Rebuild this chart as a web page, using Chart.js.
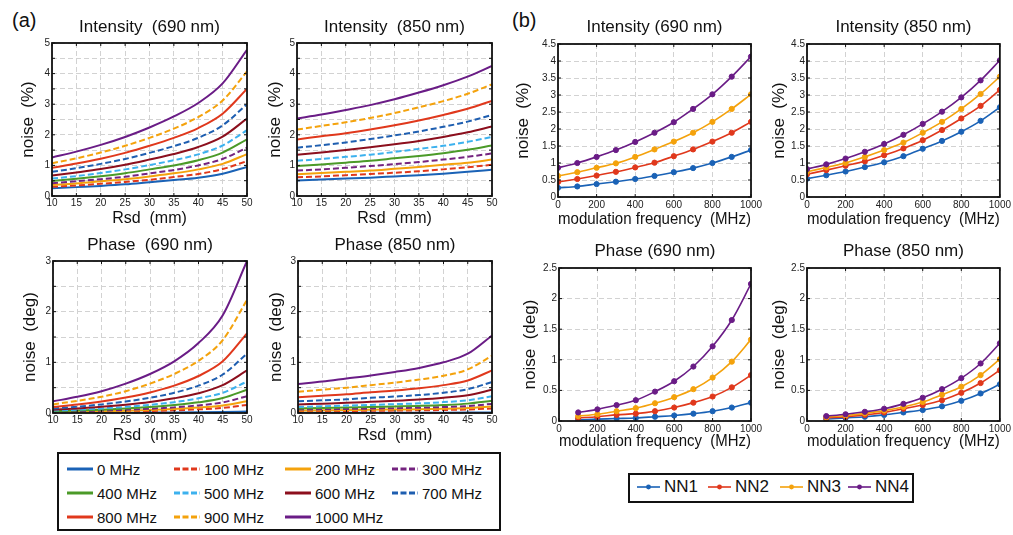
<!DOCTYPE html>
<html>
<head>
<meta charset="utf-8">
<script src="https://cdn.jsdelivr.net/npm/chart.js@4"></script>
<style>
  body { margin: 0; background: #fff; width: 1013px; height: 535px; position: relative; overflow: hidden;
         font-family: 'Liberation Sans', Arial, sans-serif; color: #111; }
  canvas { position: absolute; }
  .tag { position: absolute; font-size: 20px; line-height: 20px; }
  .legend { position: absolute; border: 2px solid #111; box-sizing: border-box; }
  .item { position: absolute; display: flex; align-items: center; height: 20px; white-space: nowrap; }
  .item svg { margin-right: 4px; }
</style>
</head>
<body>
<div class="tag" style="left:12px;top:10px">(a)</div>
<div class="tag" style="left:512px;top:10px">(b)</div>
<div id="legA" class="legend" style="left:57px;top:452px;width:444px;height:79px"></div>
<div id="legB" class="legend" style="left:628px;top:473px;width:286px;height:30px"></div>
<script>
// ---- data ----
const rsd = [10, 15, 20, 25, 30, 35, 40, 45, 50];
const freqNames = ['0 MHz', '100 MHz', '200 MHz', '300 MHz', '400 MHz', '500 MHz',
                   '600 MHz', '700 MHz', '800 MHz', '900 MHz', '1000 MHz'];

// rows: 0 MHz ... 1000 MHz, columns follow rsd
const intensity690 = [
  [0.25, 0.29, 0.33, 0.38, 0.45, 0.52, 0.60, 0.73, 0.95],
  [0.30, 0.345, 0.40, 0.46, 0.53, 0.62, 0.72, 0.88, 1.14],
  [0.36, 0.41, 0.48, 0.55, 0.64, 0.74, 0.87, 1.05, 1.37],
  [0.415, 0.48, 0.55, 0.63, 0.74, 0.85, 1.00, 1.21, 1.58],
  [0.49, 0.56, 0.645, 0.745, 0.87, 1.00, 1.17, 1.42, 1.85],
  [0.57, 0.65, 0.75, 0.87, 1.01, 1.17, 1.36, 1.65, 2.15],
  [0.67, 0.77, 0.88, 1.02, 1.19, 1.37, 1.60, 1.94, 2.53],
  [0.79, 0.91, 1.05, 1.21, 1.41, 1.63, 1.90, 2.31, 3.00],
  [0.92, 1.06, 1.22, 1.41, 1.64, 1.90, 2.22, 2.69, 3.50],
  [1.07, 1.23, 1.42, 1.64, 1.90, 2.20, 2.58, 3.12, 4.07],
  [1.26, 1.45, 1.67, 1.93, 2.24, 2.60, 3.04, 3.68, 4.78]
];
const intensity850 = [
  [0.51, 0.54, 0.57, 0.60, 0.64, 0.68, 0.73, 0.79, 0.86],
  [0.61, 0.64, 0.68, 0.72, 0.76, 0.81, 0.87, 0.94, 1.02],
  [0.71, 0.75, 0.79, 0.83, 0.89, 0.95, 1.02, 1.09, 1.19],
  [0.83, 0.87, 0.92, 0.98, 1.04, 1.11, 1.19, 1.28, 1.39],
  [0.98, 1.03, 1.09, 1.15, 1.23, 1.31, 1.40, 1.51, 1.65],
  [1.15, 1.21, 1.28, 1.35, 1.44, 1.54, 1.64, 1.77, 1.93],
  [1.35, 1.42, 1.50, 1.59, 1.69, 1.80, 1.93, 2.08, 2.27],
  [1.58, 1.66, 1.75, 1.86, 1.98, 2.11, 2.26, 2.43, 2.65],
  [1.85, 1.95, 2.05, 2.17, 2.31, 2.47, 2.65, 2.85, 3.11],
  [2.17, 2.29, 2.41, 2.55, 2.71, 2.90, 3.10, 3.34, 3.65],
  [2.53, 2.66, 2.81, 2.97, 3.16, 3.38, 3.62, 3.90, 4.25]
];
const phase690 = [
  [0.003, 0.004, 0.005, 0.006, 0.008, 0.010, 0.013, 0.018, 0.028],
  [0.012, 0.017, 0.023, 0.030, 0.040, 0.053, 0.072, 0.10, 0.16],
  [0.018, 0.025, 0.034, 0.045, 0.060, 0.080, 0.108, 0.15, 0.23],
  [0.025, 0.035, 0.047, 0.063, 0.084, 0.111, 0.15, 0.21, 0.33],
  [0.035, 0.048, 0.066, 0.088, 0.117, 0.156, 0.21, 0.295, 0.46],
  [0.048, 0.066, 0.09, 0.121, 0.16, 0.214, 0.29, 0.40, 0.62],
  [0.065, 0.09, 0.122, 0.164, 0.218, 0.29, 0.39, 0.55, 0.84],
  [0.09, 0.124, 0.17, 0.227, 0.30, 0.40, 0.54, 0.76, 1.17],
  [0.12, 0.167, 0.227, 0.305, 0.405, 0.54, 0.73, 1.02, 1.57],
  [0.17, 0.24, 0.32, 0.43, 0.58, 0.77, 1.03, 1.44, 2.23],
  [0.23, 0.32, 0.43, 0.58, 0.77, 1.02, 1.38, 1.93, 3.00]
];
const phase850 = [
  [0.004, 0.004, 0.005, 0.005, 0.006, 0.006, 0.007, 0.008, 0.01],
  [0.034, 0.037, 0.040, 0.044, 0.048, 0.053, 0.059, 0.070, 0.09],
  [0.048, 0.053, 0.058, 0.063, 0.069, 0.075, 0.084, 0.099, 0.13],
  [0.067, 0.073, 0.080, 0.087, 0.095, 0.105, 0.117, 0.137, 0.18],
  [0.09, 0.098, 0.107, 0.117, 0.128, 0.14, 0.157, 0.185, 0.24],
  [0.12, 0.134, 0.146, 0.16, 0.175, 0.19, 0.215, 0.25, 0.33],
  [0.17, 0.185, 0.20, 0.22, 0.24, 0.265, 0.30, 0.35, 0.46],
  [0.23, 0.25, 0.27, 0.30, 0.325, 0.355, 0.40, 0.47, 0.61],
  [0.31, 0.34, 0.37, 0.41, 0.445, 0.49, 0.55, 0.64, 0.84],
  [0.42, 0.46, 0.50, 0.55, 0.60, 0.66, 0.735, 0.86, 1.13],
  [0.57, 0.62, 0.68, 0.74, 0.81, 0.89, 1.00, 1.17, 1.53]
];

const freqAll = [0, 100, 200, 300, 400, 500, 600, 700, 800, 900, 1000];
const freqPhase = [100, 200, 300, 400, 500, 600, 700, 800, 900, 1000];
const nnNames = ['NN1', 'NN2', 'NN3', 'NN4'];

const nnIntensity690 = [
  [0.27, 0.31, 0.38, 0.45, 0.53, 0.62, 0.73, 0.85, 1.00, 1.18, 1.38],
  [0.44, 0.53, 0.63, 0.74, 0.87, 1.01, 1.20, 1.40, 1.63, 1.89, 2.21],
  [0.62, 0.73, 0.86, 0.99, 1.18, 1.40, 1.63, 1.89, 2.21, 2.59, 3.02],
  [0.86, 1.00, 1.18, 1.38, 1.62, 1.89, 2.20, 2.59, 3.02, 3.54, 4.13]
];
const nnIntensity850 = [
  [0.54, 0.64, 0.75, 0.88, 1.02, 1.20, 1.42, 1.65, 1.92, 2.24, 2.64],
  [0.67, 0.79, 0.92, 1.05, 1.23, 1.43, 1.67, 1.97, 2.31, 2.68, 3.15],
  [0.74, 0.87, 1.00, 1.18, 1.38, 1.60, 1.89, 2.21, 2.59, 3.03, 3.54],
  [0.82, 0.96, 1.13, 1.33, 1.56, 1.83, 2.15, 2.51, 2.93, 3.43, 4.02]
];
const nnPhase690 = [
  [0.02, 0.03, 0.04, 0.05, 0.07, 0.09, 0.12, 0.16, 0.22, 0.30],
  [0.05, 0.07, 0.10, 0.12, 0.16, 0.22, 0.30, 0.40, 0.55, 0.75],
  [0.08, 0.11, 0.16, 0.21, 0.29, 0.39, 0.52, 0.71, 0.97, 1.33],
  [0.14, 0.19, 0.26, 0.34, 0.48, 0.65, 0.89, 1.22, 1.65, 2.24]
];
const nnPhase850 = [
  [0.03, 0.05, 0.07, 0.10, 0.14, 0.18, 0.24, 0.33, 0.45, 0.60],
  [0.05, 0.07, 0.10, 0.14, 0.20, 0.26, 0.34, 0.46, 0.62, 0.83],
  [0.065, 0.09, 0.125, 0.17, 0.23, 0.31, 0.43, 0.56, 0.75, 1.01],
  [0.08, 0.11, 0.15, 0.20, 0.28, 0.38, 0.52, 0.70, 0.94, 1.27]
];

// ---- styles ----
const freqColors = ['#1a62b6', '#e0381c', '#f4a20c', '#74237f', '#4b9a28', '#3cb1ee',
                    '#8c0f1d', '#1e5eb0', '#e0381c', '#f4a20c', '#6a1c86'];
const freqDashed = [false, true, false, true, false, true, false, true, false, true, false];
const nnColors = ['#1a62b6', '#e0381c', '#f4a20c', '#6a1c86'];

Chart.defaults.font.family = "'Liberation Sans', Arial, sans-serif";
Chart.defaults.color = '#111';

// black box round the plot, with short inward ticks like the original
const framePlugin = {
  id: 'frame',
  afterDraw(chart) {
    const { ctx, chartArea: a, scales } = chart;
    ctx.save();
    ctx.strokeStyle = '#111';
    ctx.lineWidth = 1;
    ctx.beginPath();
    scales.x.ticks.forEach(t => {
      const px = scales.x.getPixelForValue(t.value);
      ctx.moveTo(px, a.bottom); ctx.lineTo(px, a.bottom - 3);
      ctx.moveTo(px, a.top); ctx.lineTo(px, a.top + 3);
    });
    scales.y.ticks.forEach(t => {
      const py = scales.y.getPixelForValue(t.value);
      ctx.moveTo(a.left, py); ctx.lineTo(a.left + 3, py);
      ctx.moveTo(a.right, py); ctx.lineTo(a.right - 3, py);
    });
    ctx.stroke();
    ctx.lineWidth = 1.8;
    ctx.strokeRect(a.left, a.top, a.right - a.left, a.bottom - a.top);
    ctx.restore();
  }
};

function freqDatasets(rows) {
  return rows.map((row, i) => ({
    label: freqNames[i],
    data: rsd.map((x, j) => ({ x: x, y: row[j] })),
    borderColor: freqColors[i],
    borderWidth: 2,
    borderDash: freqDashed[i] ? [6, 3] : [],
    pointRadius: 0,
    fill: false,
    cubicInterpolationMode: 'monotone',
    order: rows.length - i
  }));
}

function nnDatasets(rows, xs) {
  return rows.map((row, i) => ({
    label: nnNames[i],
    data: xs.map((x, j) => ({ x: x, y: row[j] })),
    borderColor: nnColors[i],
    backgroundColor: nnColors[i],
    borderWidth: 1.6,
    pointRadius: 2.6,
    pointBorderWidth: 1,
    pointBackgroundColor: nnColors[i],
    pointBorderColor: nnColors[i],
    fill: false,
    cubicInterpolationMode: 'monotone',
    order: rows.length - i
  }));
}

const intOnly = v => (Number.isInteger(v) ? String(v) : '');
const plain = v => String(v);

function buildChart(p) {
  const xH = 34;
  const canvas = document.createElement('canvas');
  canvas.width = p.R + p.padR - p.cx;
  canvas.height = p.B + xH - p.cy;
  canvas.style.left = p.cx + 'px';
  canvas.style.top = p.cy + 'px';
  document.body.appendChild(canvas);

  const grid = { color: '#d2d2d2', lineWidth: 1, drawTicks: false };
  const border = { display: false, dash: [5, 3] };
  const xFont = p.xTitleSize / 2 * 1.2;

  new Chart(canvas, {
    type: 'line',
    data: { datasets: p.datasets },
    options: {
      responsive: false,
      animation: false,
      layout: { padding: { left: 0, top: 0, right: p.padR, bottom: 0 } },
      plugins: {
        legend: { display: false },
        tooltip: { enabled: false },
        title: {
          display: true, text: p.title, fullSize: false, color: '#111',
          font: { size: 17, weight: 'normal' },
          padding: { top: p.titleY - p.cy - 10.2, bottom: p.T - p.titleY - 10.2 }
        }
      },
      scales: {
        x: {
          type: 'linear', min: p.xMin, max: p.xMax,
          afterFit: s => { s.height = xH; },
          ticks: { stepSize: p.xStep, padding: p.xTickPad, font: { size: 10 }, color: '#222',
                   maxRotation: 0, autoSkip: false, callback: plain },
          grid: grid, border: border,
          title: { display: true, text: p.xTitle, color: '#111', font: { size: p.xTitleSize },
                   padding: { top: 0, bottom: p.B + xH - p.xTitleY - xFont } }
        },
        y: {
          type: 'linear', min: 0, max: p.yMax,
          afterFit: s => { s.width = p.L - p.cx; },
          ticks: { stepSize: 0.5, padding: 2, font: { size: 10 }, color: '#222',
                   autoSkip: false, callback: p.yLabel },
          grid: grid, border: border,
          title: { display: true, text: p.yTitle, color: '#111', font: { size: 17 },
                   padding: { top: p.yTitleX - p.cx - 10.2, bottom: 0 } }
        }
      }
    },
    plugins: [framePlugin]
  });
}

const rsdAxis = { xMin: 10, xMax: 50, xStep: 5, xTitle: 'Rsd  (mm)', xTitleSize: 16, xTickPad: 1, yLabel: intOnly };
const mfAxis = { xMin: 0, xMax: 1000, xStep: 200, xTitle: 'modulation frequency  (MHz)', xTitleSize: 17, xTickPad: 2, yLabel: plain };

const panels = [
  Object.assign({ cx: 0, cy: 0, L: 52, R: 247, T: 43, B: 196, padR: 10, titleY: 27, yTitleX: 28, xTitleY: 219,
    title: 'Intensity  (690 nm)', yTitle: 'noise  (%)', yMax: 5, datasets: freqDatasets(intensity690) }, rsdAxis),
  Object.assign({ cx: 255, cy: 0, L: 297, R: 492, T: 43, B: 196, padR: 12, titleY: 27, yTitleX: 275, xTitleY: 219,
    title: 'Intensity  (850 nm)', yTitle: 'noise  (%)', yMax: 5, datasets: freqDatasets(intensity850) }, rsdAxis),
  Object.assign({ cx: 0, cy: 225, L: 53, R: 247, T: 261, B: 413, padR: 10, titleY: 245, yTitleX: 30, xTitleY: 436,
    title: 'Phase  (690 nm)', yTitle: 'noise  (deg)', yMax: 3, datasets: freqDatasets(phase690) }, rsdAxis),
  Object.assign({ cx: 255, cy: 225, L: 298, R: 492, T: 261, B: 413, padR: 12, titleY: 245, yTitleX: 276, xTitleY: 436,
    title: 'Phase (850 nm)', yTitle: 'noise  (deg)', yMax: 3, datasets: freqDatasets(phase850) }, rsdAxis),
  Object.assign({ cx: 505, cy: 0, L: 558, R: 751, T: 44, B: 197, padR: 16, titleY: 27, yTitleX: 523, xTitleY: 219,
    title: 'Intensity (690 nm)', yTitle: 'noise  (%)', yMax: 4.5, datasets: nnDatasets(nnIntensity690, freqAll) }, mfAxis),
  Object.assign({ cx: 760, cy: 0, L: 807, R: 1000, T: 44, B: 197, padR: 13, titleY: 27, yTitleX: 779, xTitleY: 219,
    title: 'Intensity (850 nm)', yTitle: 'noise  (%)', yMax: 4.5, datasets: nnDatasets(nnIntensity850, freqAll) }, mfAxis),
  Object.assign({ cx: 505, cy: 225, L: 559, R: 751, T: 268, B: 421, padR: 16, titleY: 251, yTitleX: 530, xTitleY: 441,
    title: 'Phase (690 nm)', yTitle: 'noise  (deg)', yMax: 2.5, datasets: nnDatasets(nnPhase690, freqPhase) }, mfAxis),
  Object.assign({ cx: 760, cy: 225, L: 807, R: 1000, T: 268, B: 421, padR: 13, titleY: 251, yTitleX: 779, xTitleY: 441,
    title: 'Phase (850 nm)', yTitle: 'noise  (deg)', yMax: 2.5, datasets: nnDatasets(nnPhase850, freqPhase) }, mfAxis)
];
panels.forEach(buildChart);

// ---- legends ----
function sample(color, dashed, dot, w, sw) {
  return '<svg width="' + w + '" height="8"><line x1="0" y1="4" x2="' + w + '" y2="4" stroke="' + color +
    '" stroke-width="' + sw + '"' + (dashed ? ' stroke-dasharray="6 2.5"' : '') + '/>' +
    (dot ? '<circle cx="' + (w / 2) + '" cy="4" r="2.4" fill="' + color + '"/>' : '') + '</svg>';
}

const legA = document.getElementById('legA');
const colX = [8, 115, 226, 333];
const rowY = [5, 29, 53];
freqNames.forEach((name, i) => {
  const el = document.createElement('div');
  el.className = 'item';
  el.style.left = colX[i % 4] + 'px';
  el.style.top = rowY[Math.floor(i / 4)] + 'px';
  el.style.fontSize = '15px';
  el.innerHTML = sample(freqColors[i], freqDashed[i], false, 26, 3) + name;
  legA.appendChild(el);
});

const legB = document.getElementById('legB');
const nnX = [7, 78, 150, 218];
nnNames.forEach((name, i) => {
  const el = document.createElement('div');
  el.className = 'item';
  el.style.left = nnX[i] + 'px';
  el.style.top = '2px';
  el.style.fontSize = '17px';
  el.innerHTML = sample(nnColors[i], false, true, 23, 1.6) + name;
  legB.appendChild(el);
});
</script>
</body>
</html>
